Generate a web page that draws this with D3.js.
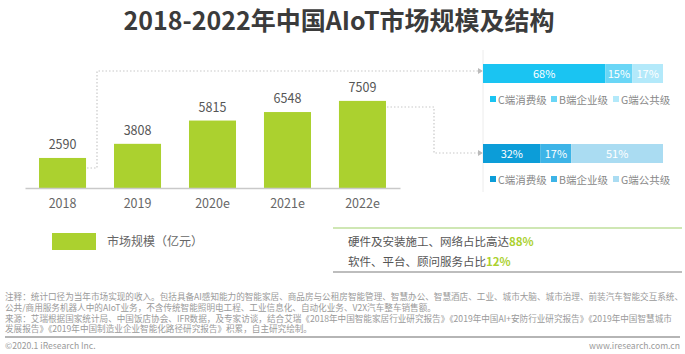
<!DOCTYPE html>
<html lang="zh">
<head>
<meta charset="UTF-8">
<title>2018-2022年中国AIoT市场规模及结构</title>
<script src="https://d3js.org/d3.v7.min.js"></script>
<style>
    body { margin: 0; background: #fff; }
    svg { display: block; font-family: "Noto Sans CJK SC", "Noto Sans", sans-serif; }
</style>
</head>
<body>
<svg id="chart" width="685" height="354"></svg>
<script>
// data
const years = ['2018', '2019', '2020e', '2021e', '2022e'];
const marketSize = [2590, 3808, 5815, 6548, 7509];
const segments = ['C端消费级', 'B端企业级', 'G端公共级'];
const share2018 = [68, 15, 17];
const share2022 = [32, 17, 51];
const summaryLines = [
    ['硬件及安装施工、网络占比高达', '88%'],
    ['软件、平台、顾问服务占比', '12%']
];
const notes = [
    '注释：统计口径为当年市场实现的收入。包括具备AI感知能力的智能家居、商品房与公租房智能管理、智慧办公、智慧酒店、工业、城市大脑、城市治理、前装汽车智能交互系统、',
    '公共/商用服务机器人中的AIoT业务，不含传统智能照明电工程、工业信息化、自动化业务、V2X汽车整车销售额。',
    '来源：艾瑞根据国家统计局、中国饭店协会、IFR数据，及专家访谈，结合艾瑞《2018年中国智能家居行业研究报告》《2019年中国AI+安防行业研究报告》《2019年中国智慧城市',
    '发展报告》《2019年中国制造业企业智能化路径研究报告》积累，自主研究绘制。'
];

const svg = d3.select('#chart');
const green = '#abd12f';

// title
svg.append('text')
    .attr('x', 339).attr('y', 29.5)
    .attr('text-anchor', 'middle')
    .attr('font-size', '25px').attr('font-weight', 'bold')
    .attr('fill', '#3b3b3b')
    .text('2018-2022年中国AIoT市场规模及结构');

// bar chart
const x = d3.scaleBand().domain(years).range([25, 400])
    .paddingInner(0.373).paddingOuter(0.187);
const y = d3.scaleLinear().domain([0, 10000]).range([188, 72]);

const bars = years.map((yr, i) => ({ year: yr, value: marketSize[i] }));

// dotted connectors (drawn first so bars sit above)
const dot = svg.append('g').attr('fill', 'none')
    .attr('stroke', '#c8c8c8').attr('stroke-width', 1.2)
    .attr('stroke-dasharray', '1.5,2');
const b0 = bars[0], b4 = bars[4];
const xs = d3.scaleLinear().domain([0, 100]).range([483, 663]);
const rowY = [64, 144], rowH = 19;
dot.append('path').attr('d', d3.line()([
    [x(b0.year) + x.bandwidth() + 1, 168], [97, 168], [97, 71], [xs(0) - 4, 71]
]));
dot.append('path').attr('d', d3.line()([
    [x(b4.year) + x.bandwidth() + 1, 107], [434, 107], [434, 153], [xs(0) - 4, 153]
]));
[71, 153].forEach(ay => {
    svg.append('path')
        .attr('d', `M${xs(0) - 5},${ay - 3}L${xs(0)},${ay}L${xs(0) - 5},${ay + 3}Z`)
        .attr('fill', '#bbb');
});

svg.append('g').selectAll('rect').data(bars).join('rect')
    .attr('x', d => x(d.year)).attr('width', x.bandwidth())
    .attr('y', d => y(d.value)).attr('height', d => y(0) - y(d.value))
    .attr('fill', green);

svg.append('g').selectAll('text').data(bars).join('text')
    .attr('x', d => x(d.year) + x.bandwidth() / 2)
    .attr('y', d => y(d.value) - 9)
    .attr('text-anchor', 'middle')
    .attr('font-size', '12.5px').attr('fill', '#555')
    .text(d => d.value);

const xAxis = svg.append('g').attr('transform', `translate(0,${y(0)})`)
    .call(d3.axisBottom(x).tickSize(0).tickPadding(11));
xAxis.select('.domain').attr('stroke', '#c9c9c9').attr('stroke-width', 1.5);
xAxis.selectAll('text').attr('font-size', '12.5px').attr('fill', '#666')
    .attr('font-family', '"Noto Sans CJK SC", "Noto Sans", sans-serif');

// legend
svg.append('rect').attr('x', 52).attr('y', 233).attr('width', 44).attr('height', 17).attr('fill', green);
svg.append('text').attr('x', 107).attr('y', 246).attr('font-size', '12px').attr('fill', '#666')
    .text('市场规模（亿元）');

// stacked share bars
svg.append('line').attr('x1', 483).attr('x2', 483).attr('y1', 50).attr('y2', 192)
    .attr('stroke', '#ececec').attr('stroke-width', 1);

const palettes = [
    ['#1ac4f2', '#6ad6f6', '#b3e9fa'],
    ['#0c9dd8', '#3db4e7', '#aadcf2']
];
[share2018, share2022].forEach((shares, r) => {
    const stack = [];
    let acc = 0;
    shares.forEach((v, i) => { stack.push({ key: segments[i], v, x0: acc, x1: acc + v, i }); acc += v; });
    const g = svg.append('g');
    g.selectAll('rect').data(stack).join('rect')
        .attr('x', d => xs(d.x0)).attr('width', d => xs(d.x1) - xs(d.x0))
        .attr('y', rowY[r]).attr('height', rowH)
        .attr('fill', d => palettes[r][d.i]);
    g.selectAll('text').data(stack).join('text')
        .attr('x', d => (xs(d.x0) + xs(d.x1)) / 2)
        .attr('y', rowY[r] + rowH / 2 + 4)
        .attr('text-anchor', 'middle')
        .attr('font-size', '11px').attr('fill', '#fff')
        .text(d => d.v + '%');

    const lg = svg.append('g').attr('transform', `translate(0,${rowY[r] + 36})`);
    const lx = [490, 551, 613];
    segments.forEach((s, i) => {
        lg.append('rect').attr('x', lx[i]).attr('y', -4).attr('width', 6).attr('height', 6)
            .attr('fill', palettes[r][i]);
        lg.append('text').attr('x', lx[i] + 8).attr('y', 3.5)
            .attr('font-size', '10.5px').attr('fill', '#888').text(s);
    });
});

// summary panel
svg.append('line').attr('x1', 333).attr('x2', 682).attr('y1', 228).attr('y2', 228)
    .attr('stroke', '#9fcf6a').attr('stroke-width', 1.2);
summaryLines.forEach((ln, i) => {
    const t = svg.append('text').attr('x', 348).attr('y', 246 + i * 20)
        .attr('font-size', '11.5px').attr('fill', '#555');
    t.append('tspan').text(ln[0]);
    t.append('tspan').attr('fill', green).attr('font-weight', 'bold').text(ln[1]);
});
svg.append('line').attr('x1', 333).attr('x2', 682).attr('y1', 272).attr('y2', 272)
    .attr('stroke', '#bdbdbd').attr('stroke-width', 2);

// notes
svg.append('g').selectAll('text').data(notes).join('text')
    .attr('x', 5).attr('y', (d, i) => 300 + i * 10.8)
    .attr('font-size', '8.6px').attr('fill', '#9a9a9a')
    .text(d => d);

svg.append('line').attr('x1', 5).attr('x2', 680).attr('y1', 337).attr('y2', 337)
    .attr('stroke', '#b5b5b5').attr('stroke-width', 2);
svg.append('text').attr('x', 5).attr('y', 349).attr('font-size', '8.6px').attr('fill', '#9a9a9a')
    .text('©2020.1 iResearch Inc.');
svg.append('text').attr('x', 680).attr('y', 349).attr('text-anchor', 'end')
    .attr('font-size', '8.6px').attr('fill', '#9a9a9a')
    .text('www.iresearch.com.cn');
</script>
</body>
</html>
